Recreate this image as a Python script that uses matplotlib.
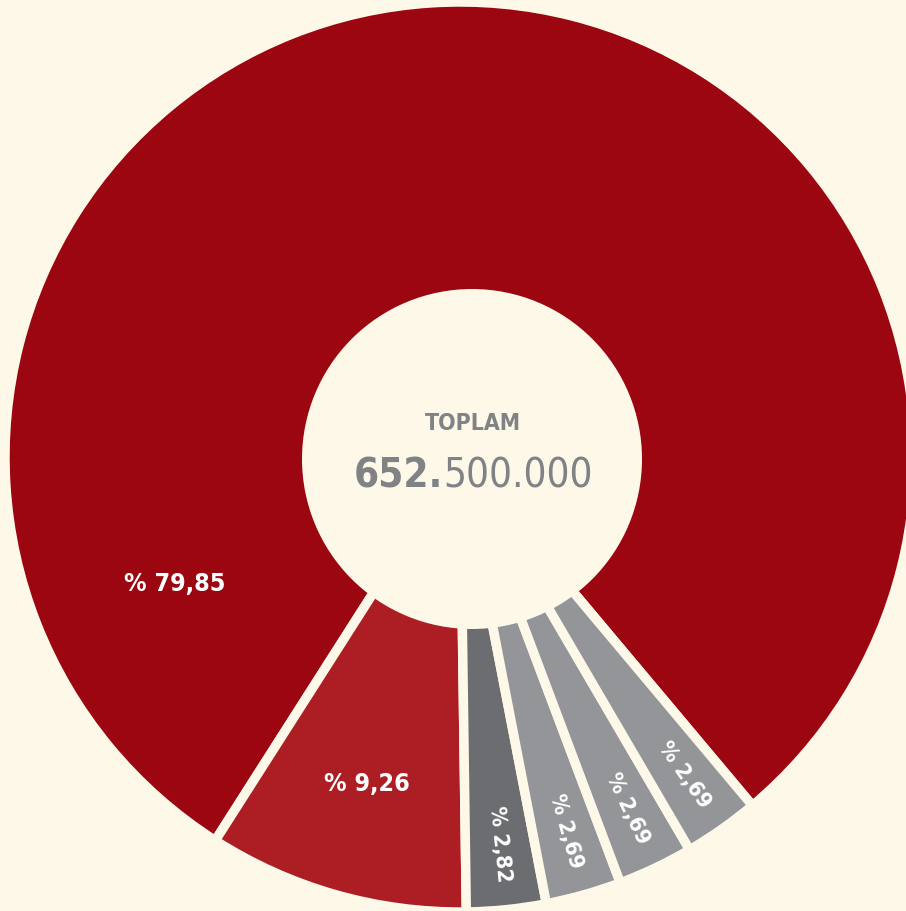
import matplotlib
matplotlib.use("Agg")
import matplotlib.pyplot as plt
from matplotlib.patches import Circle
import numpy as np

# ---- data ----
shares = [79.85, 9.26, 2.82, 2.69, 2.69, 2.69]
labels = ["% 79,85", "% 9,26", "% 2,82", "% 2,69", "% 2,69", "% 2,69"]
slice_colors = ["#9B0610", "#AD1E24", "#6C6D71", "#939598", "#939598", "#939598"]
total_title = "TOPLAM"
total_bold = "652."
total_light = "500.000"

bg = "#FDF8E8"
W, H = 906, 911
fig = plt.figure(figsize=(W / 100, H / 100), dpi=100, facecolor=bg)
ax = fig.add_axes([0, 0, 1, 1])
ax.set_facecolor(bg)

cx, cy = 460, H - 457
R = 455
wedges, _ = ax.pie(shares, colors=slice_colors, startangle=-50, counterclock=True,
                   center=(cx, cy), radius=R,
                   wedgeprops=dict(edgecolor=bg, linewidth=6.8))
ax.set_xlim(0, W)
ax.set_ylim(0, H)
ax.set_aspect("equal")
ax.axis("off")

# hole
ax.add_patch(Circle((472, H - 459), 170, facecolor=bg, edgecolor="none", zorder=5))

font = ["DejaVu Sans"]
st = "condensed"

for i, (w, lab) in enumerate(zip(wedges, labels)):
    mid = (w.theta1 + w.theta2) / 2.0
    if i == 0:
        ang, r, rot, fs = 204.0, 312, 0, 18
    elif i == 1:
        ang, r, rot, fs = mid, 340, 0, 18
    else:
        ang, r, rot, fs = mid, 389, mid - 360, 16
    x = cx + r * np.cos(np.radians(ang))
    y = cy + r * np.sin(np.radians(ang))
    ax.text(x, y, lab, color="white", fontsize=fs, fontweight="bold",
            family=font, fontstretch=st, ha="center", va="center", rotation=rot,
            rotation_mode="anchor", zorder=6)

gray = "#808285"
ax.text(473, H - 424, total_title, color=gray, fontsize=16.5, fontweight="bold",
        family=font, fontstretch=st, ha="center", va="center", zorder=6)

fs_tot = 29
fig.canvas.draw()
renderer = fig.canvas.get_renderer()
tb = ax.text(0, 0, total_bold, fontsize=fs_tot, fontweight="bold", family=font, fontstretch=st)
tl = ax.text(0, 0, total_light, fontsize=fs_tot, fontweight="normal", family=font, fontstretch=st)
wb = tb.get_window_extent(renderer).width
wl = tl.get_window_extent(renderer).width
tb.remove(); tl.remove()
xc = 473
x0 = xc - (wb + wl) / 2 + wb
yv = H - 476
ax.text(x0, yv, total_bold, color=gray, fontsize=fs_tot, fontweight="bold",
        family=font, fontstretch=st, ha="right", va="center", zorder=6)
ax.text(x0, yv, total_light, color=gray, fontsize=fs_tot, fontweight="normal",
        family=font, fontstretch=st, ha="left", va="center", zorder=6)

fig.savefig("out.png", dpi=100, facecolor=bg)
